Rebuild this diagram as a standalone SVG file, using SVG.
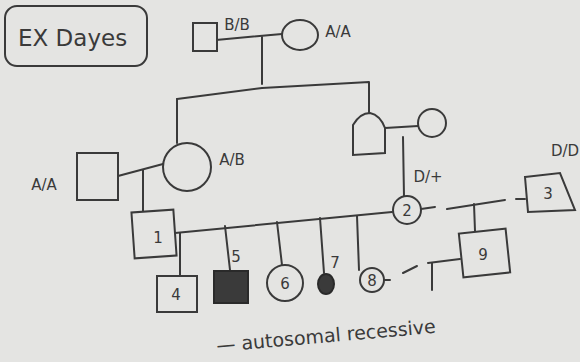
<svg xmlns="http://www.w3.org/2000/svg" width="580" height="362" viewBox="0 0 580 362">
<defs>
<style>
.s{fill:none;stroke:#3a3a3a;stroke-width:2;stroke-linecap:round;stroke-linejoin:round}
.n{fill:#e4e4e2;stroke:#3a3a3a;stroke-width:2}
.f{fill:#3a3a3a;stroke:#2a2a2a;stroke-width:2}
.t{font-family:"DejaVu Sans","Liberation Sans",sans-serif;fill:#3a3a3a}
.l{font-family:"DejaVu Sans","Liberation Sans",sans-serif;fill:#3a3a3a;font-size:15px;text-anchor:middle}
</style>
</defs>
<rect width="580" height="362" fill="#e4e4e2"/>
<g id="title">
<rect x="5" y="6" width="142" height="60" rx="12" class="s"/>
<text x="18" y="46" class="t" style="font-size:23px">EX Dayes</text>
</g>
<g id="connectors" class="s">
<path d="M216,40 L282,34"/>
<path d="M262,37 L262,84"/>
<path d="M177,99 L262,88 L369,82 L369,116"/>
<path d="M177,99 L177,143"/>
<path d="M118,176 L163,164"/>
<path d="M143,170 L143,212"/>
<path d="M385,128 L418,126"/>
<path d="M403,137 L404,197"/>
<path d="M175,233 L392,212"/>
<path d="M180,233 L180,276"/>
<path d="M225,226 L230,270"/>
<path d="M277,222 L282,265"/>
<path d="M320,218 L324,273"/>
<path d="M357,216 L359,270"/>
<path d="M421,209 L435,207"/>
<path d="M447,209 L505,200"/>
<path d="M516,199 L525,199"/>
<path d="M474,204 L475,231"/>
<path d="M384,280 L390,280"/>
<path d="M403,273 L417,266"/>
<path d="M428,263 L460,259"/>
<path d="M432,263 L432,290"/>
</g>
<g id="gp-male"><rect x="193" y="23" width="24" height="28" class="n"/><text x="237" y="30" class="l">B/B</text></g>
<g id="gp-female"><ellipse cx="300" cy="35" rx="18" ry="15" class="n"/><text x="338" y="37" class="l">A/A</text></g>
<g id="p2-male"><rect x="77" y="153" width="41" height="47" class="n"/><text x="44" y="190" class="l">A/A</text></g>
<g id="p2-female"><circle cx="187" cy="167" r="24" class="n"/><text x="232" y="165" class="l">A/B</text></g>
<g id="p2-male-right"><path d="M353,155 L353,125 Q360,113 370,113 Q380,115 385,128 L385,153 Z" class="n"/></g>
<g id="p2-female-right"><circle cx="432" cy="123" r="14" class="n"/></g>
<g id="n1"><rect x="133" y="211" width="42" height="46" class="n" transform="rotate(-4 154 234)"/><text x="158" y="243" class="l">1</text></g>
<g id="n2"><circle cx="407" cy="210" r="14" class="n"/><text x="407" y="216" class="l">2</text><text x="428" y="182" class="l">D/+</text></g>
<g id="n3"><path d="M525,177 L560,173 L575,210 L528,212 Z" class="n"/><text x="548" y="199" class="l">3</text><text x="565" y="156" class="l">D/D</text></g>
<g id="n4"><rect x="157" y="276" width="40" height="36" class="n"/><text x="176" y="300" class="l">4</text></g>
<g id="n5"><rect x="214" y="271" width="34" height="32" class="f"/><text x="236" y="262" class="l">5</text></g>
<g id="n6"><circle cx="285" cy="283" r="18" class="n"/><text x="285" y="289" class="l">6</text></g>
<g id="n7"><ellipse cx="326" cy="284" rx="8" ry="10" class="f"/><text x="335" y="268" class="l">7</text></g>
<g id="n8"><circle cx="372" cy="280" r="12" class="n"/><text x="372" y="286" class="l">8</text></g>
<g id="n9"><rect x="461" y="231" width="47" height="44" class="n" transform="rotate(-6 484 253)"/><text x="483" y="260" class="l">9</text></g>
<g id="note">
<text x="217" y="352" class="t" style="font-size:19px" transform="rotate(-5 217 352)">— autosomal recessive</text>
</g>
</svg>
